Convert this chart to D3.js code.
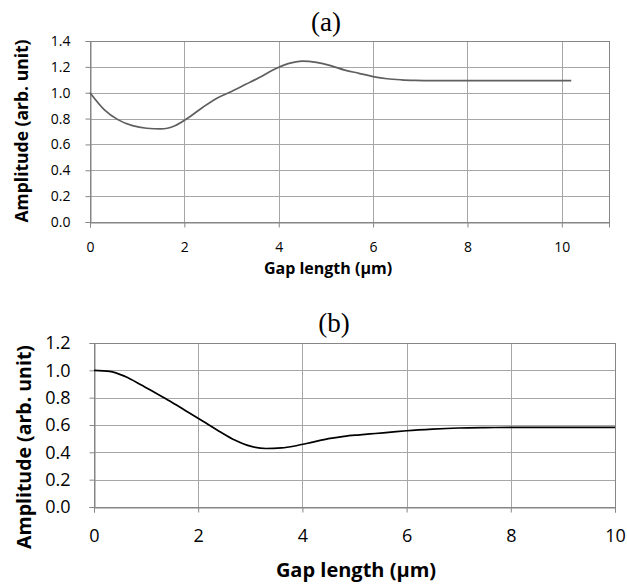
<!DOCTYPE html>
<html>
<head>
<meta charset="utf-8">
<script src="https://cdn.jsdelivr.net/npm/d3@7"></script>
<style>
	body { margin: 0; background: #fff; }
	svg { display: block; }
</style>
</head>
<body>
<svg id="chart" width="627" height="585"></svg>
<script>
// panel (a): amplitude vs gap length, sampled every 0.3 µm
const gapA = [0, 0.3, 0.6, 0.9, 1.2, 1.5, 1.8, 2.1, 2.4, 2.7, 3.0, 3.3, 3.6, 3.9, 4.2, 4.5, 4.8, 5.1, 5.4, 5.7, 6.0, 6.3, 6.6, 6.9, 7.2, 7.5, 7.8, 8.1, 8.4, 8.7, 9.0, 9.3, 9.6, 9.9, 10.2];
const ampA = [1.0, 0.87, 0.79, 0.745, 0.725, 0.72, 0.745, 0.81, 0.89, 0.96, 1.01, 1.065, 1.12, 1.18, 1.225, 1.245, 1.235, 1.21, 1.175, 1.15, 1.125, 1.108, 1.1, 1.096, 1.094, 1.094, 1.094, 1.094, 1.094, 1.094, 1.094, 1.094, 1.094, 1.094, 1.094];

// panel (b)
const gapB = [0, 0.3, 0.6, 0.9, 1.2, 1.5, 1.8, 2.1, 2.4, 2.7, 3.0, 3.3, 3.6, 3.9, 4.2, 4.5, 4.8, 5.1, 5.4, 5.7, 6.0, 6.5, 7.0, 7.5, 8.0, 9.0, 10.0];
const ampB = [1.0, 0.993, 0.955, 0.895, 0.83, 0.765, 0.695, 0.625, 0.555, 0.49, 0.445, 0.428, 0.432, 0.45, 0.475, 0.5, 0.517, 0.528, 0.538, 0.548, 0.558, 0.57, 0.578, 0.581, 0.582, 0.583, 0.583];

const xTicks = [0, 2, 4, 6, 8, 10];
const yTicksA = [0, 0.2, 0.4, 0.6, 0.8, 1.0, 1.2, 1.4];
const yTicksB = [0, 0.2, 0.4, 0.6, 0.8, 1.0, 1.2];

const svg = d3.select('#chart');
const sans = '"Open Sans", sans-serif';

const drawPanel = opts => {
	const {gap, amp, yTicks, xMax, yMax, box, title, lineColor, tickSize, titleSize} = opts,
		x = d3.scaleLinear().domain([0, xMax]).range([box.left, box.right]),
		y = d3.scaleLinear().domain([0, yMax]).range([box.bottom, box.top]),
		g = svg.append('g');

	// grid
	g.append('g').selectAll('line').data(yTicks).enter().append('line')
		.attr('x1', box.left).attr('x2', box.right)
		.attr('y1', d => Math.round(y(d)) + 0.5).attr('y2', d => Math.round(y(d)) + 0.5)
		.attr('stroke', '#a6a6a6');
	g.append('g').selectAll('line').data(xTicks).enter().append('line')
		.attr('x1', d => Math.round(x(d)) + 0.5).attr('x2', d => Math.round(x(d)) + 0.5)
		.attr('y1', box.top).attr('y2', box.bottom)
		.attr('stroke', '#a6a6a6');

	g.append('rect')
		.attr('x', box.left + 0.5).attr('y', box.top + 0.5)
		.attr('width', box.right - box.left).attr('height', box.bottom - box.top)
		.attr('fill', 'none').attr('stroke', '#868686');

	// axes
	const yAxis = d3.axisLeft(y).tickValues(yTicks).tickFormat(d3.format('.1f')).tickSize(5).tickPadding(opts.yPad);
	const xAxis = d3.axisBottom(x).tickValues(xTicks).tickFormat(d3.format('d')).tickSize(5).tickPadding(opts.xPad);

	const ya = g.append('g').attr('transform', `translate(${box.left + 0.5},0)`).call(yAxis);
	const xa = g.append('g').attr('transform', `translate(0,${box.bottom + 0.5})`).call(xAxis);
	[ya, xa].forEach(a => {
		a.select('.domain').attr('stroke', '#868686');
		a.selectAll('.tick line').attr('stroke', '#868686');
		a.selectAll('text').attr('fill', '#000')
			.style('font-family', sans)
			.style('font-size', tickSize + 'px');
	});

	g.append('path')
		.datum(d3.zip(gap, amp))
		.attr('fill', 'none')
		.attr('stroke', lineColor)
		.attr('stroke-width', 1.7)
		.attr('d', d3.line().x(d => x(d[0])).y(d => y(d[1])).curve(d3.curveMonotoneX));

	g.append('text')
		.attr('x', opts.titleX).attr('y', opts.titleY)
		.attr('text-anchor', 'middle')
		.style('font-family', '"Liberation Serif", serif')
		.style('font-size', '27px')
		.text(title);

	g.append('text')
		.attr('x', opts.xLabelX).attr('y', opts.xLabelY)
		.attr('text-anchor', 'middle')
		.style('font-family', sans)
		.style('font-weight', 'bold')
		.style('font-size', titleSize + 'px')
		.text('Gap length (µm)');

	g.append('text')
		.attr('transform', `translate(${opts.yLabelX},${opts.yLabelY}) rotate(-90)`)
		.attr('text-anchor', 'middle')
		.style('font-family', sans)
		.style('font-weight', 'bold')
		.style('font-size', opts.yTitleSize + 'px')
		.text('Amplitude (arb. unit)');
};

drawPanel({
	gap: gapA, amp: ampA, yTicks: yTicksA, xMax: 11, yMax: 1.4,
	box: {left: 90, right: 609, top: 41, bottom: 222},
	title: '(a)', titleX: 326, titleY: 31,
	lineColor: '#5f5f5f', tickSize: 14, titleSize: 16, yTitleSize: 17.5, xPad: 15, yPad: 15,
	xLabelX: 328, xLabelY: 274, yLabelX: 28, yLabelY: 131
});

drawPanel({
	gap: gapB, amp: ampB, yTicks: yTicksB, xMax: 10, yMax: 1.2,
	box: {left: 94, right: 615, top: 343, bottom: 507},
	title: '(b)', titleX: 334, titleY: 332,
	lineColor: '#000', tickSize: 18, titleSize: 20, yTitleSize: 19.5, xPad: 17, yPad: 19,
	xLabelX: 356, xLabelY: 577, yLabelX: 31, yLabelY: 447
});
</script>
</body>
</html>
